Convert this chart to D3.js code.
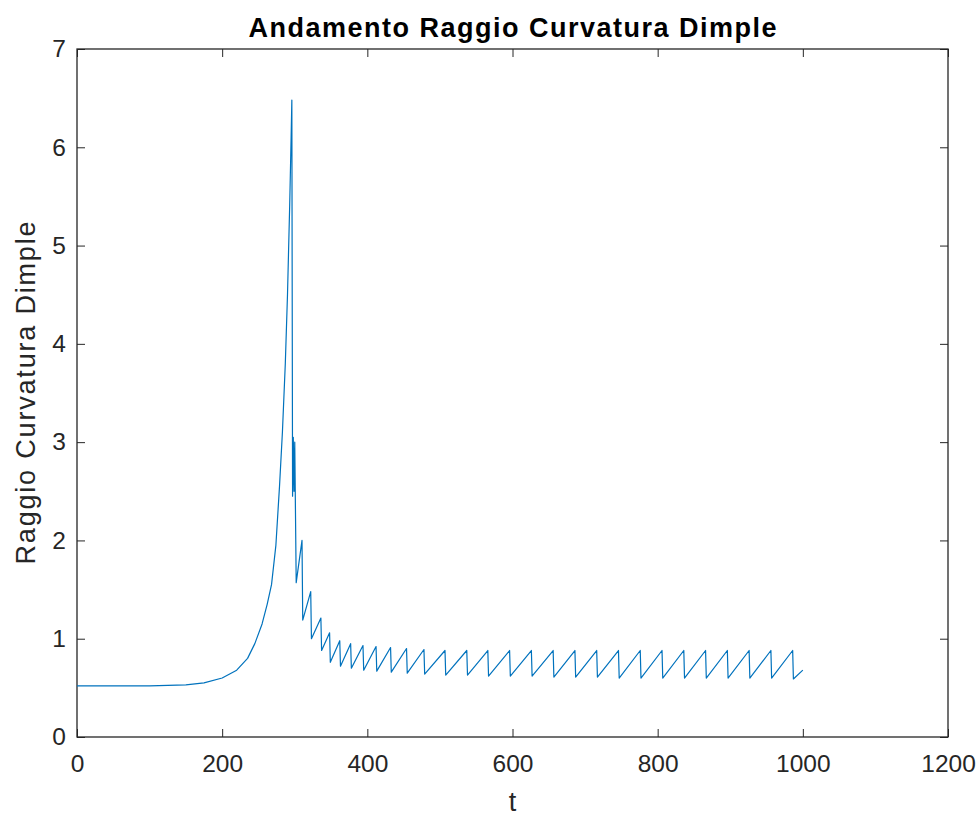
<!DOCTYPE html>
<html>
    <head>
        <meta charset="utf-8">
        <title>Andamento Raggio Curvatura Dimple</title>
        <style>
            body{
                margin: 0;
                background-color: white;
            }
            svg{
                display: block;
                background-color: white;
            }
        </style>
        <script src="https://d3js.org/d3.v7.min.js"></script>
    </head>
    <body>
    </body>
    <script>
        // t values and radius values
        let tValues = [0, 50, 100, 150, 175, 200, 220, 235, 245, 255, 262, 268, 274, 279, 283, 287, 290, 293, 295, 296,
            297, 298, 299, 300, 302,
            310, 311, 322, 323, 336, 337, 348, 349, 362, 363, 377, 378, 394, 395, 412, 413, 432, 433, 454, 455, 478, 479,
            507, 508, 537, 538, 566, 567, 596, 597, 626, 627, 656, 657, 686, 687, 716, 717, 746, 747,
            776, 777, 806, 807, 836, 837, 866, 867, 896, 897, 926, 927, 956, 957, 986, 987, 1000]
        let rValues = [0.52, 0.52, 0.52, 0.53, 0.55, 0.6, 0.68, 0.8, 0.95, 1.15, 1.35, 1.55, 1.95, 2.55, 3.1, 3.8, 4.5, 5.4, 6.1, 6.48,
            2.45, 3.05, 2.5, 3.0, 1.57,
            2.0, 1.19, 1.48, 1.0, 1.21, 0.88, 1.06, 0.76, 0.98, 0.72, 0.95, 0.7, 0.93, 0.68, 0.92, 0.67, 0.91, 0.66, 0.9, 0.65, 0.89, 0.64,
            0.88, 0.63, 0.88, 0.63, 0.88, 0.62, 0.88, 0.62, 0.88, 0.62, 0.88, 0.61, 0.88, 0.61, 0.88, 0.61, 0.88, 0.6,
            0.88, 0.6, 0.88, 0.6, 0.88, 0.6, 0.88, 0.6, 0.88, 0.6, 0.88, 0.6, 0.88, 0.6, 0.88, 0.59, 0.68]
        let xTicks = [0, 200, 400, 600, 800, 1000, 1200]
        let yTicks = [0, 1, 2, 3, 4, 5, 6, 7]

        let width = 978
        let height = 817
        let plotLeft = 77, plotRight = 948, plotTop = 49, plotBottom = 737
        let axisColor = "#262626"
        let font = "'Liberation Sans', Arial, sans-serif"

        let svg = d3.select("body")
                    .append("svg")
                    .attr("width", width)
                    .attr("height", height)

        let xScale = d3.scaleLinear().domain([0, 1200]).range([plotLeft, plotRight])
        let yScale = d3.scaleLinear().domain([0, 7]).range([plotBottom, plotTop])

        let styleAxis = (g) => {
            g.select(".domain").remove()
            g.selectAll(".tick line").attr("stroke", axisColor).attr("stroke-width", 1)
            g.selectAll("text")
                .attr("fill", axisColor)
                .attr("font-family", font)
                .attr("font-size", 24.5)
        }

        svg.append("g")
            .attr("transform", `translate(0,${plotBottom})`)
            .call(d3.axisBottom(xScale).tickValues(xTicks).tickFormat(d3.format("d")).tickSizeInner(-8).tickSizeOuter(0).tickPadding(18))
            .call(styleAxis)
        svg.append("g")
            .attr("transform", `translate(0,${plotTop})`)
            .call(d3.axisTop(xScale).tickValues(xTicks).tickFormat("").tickSizeInner(-8).tickSizeOuter(0))
            .call(styleAxis)
        svg.append("g")
            .attr("transform", `translate(${plotLeft},0)`)
            .call(d3.axisLeft(yScale).tickValues(yTicks).tickFormat(d3.format("d")).tickSizeInner(-8).tickSizeOuter(0).tickPadding(11))
            .call(styleAxis)
        svg.append("g")
            .attr("transform", `translate(${plotRight},0)`)
            .call(d3.axisRight(yScale).tickValues(yTicks).tickFormat("").tickSizeInner(-8).tickSizeOuter(0))
            .call(styleAxis)

        svg.append("rect")
            .attr("x", plotLeft)
            .attr("y", plotTop)
            .attr("width", plotRight - plotLeft)
            .attr("height", plotBottom - plotTop)
            .attr("fill", "none")
            .attr("stroke", axisColor)
            .attr("stroke-width", 1.3)

        let line = d3.line()
                    .x((d) => xScale(d[0]))
                    .y((d) => yScale(d[1]))

        svg.append("path")
            .datum(tValues.map((t, i) => [t, rValues[i]]))
            .attr("d", line)
            .attr("fill", "none")
            .attr("stroke", "#0072BD")
            .attr("stroke-width", 1.2)
            .attr("stroke-linejoin", "round")

        svg.append("text")
            .text("Andamento Raggio Curvatura Dimple")
            .attr("x", (plotLeft + plotRight) / 2)
            .attr("y", 37)
            .attr("text-anchor", "middle")
            .attr("font-family", font)
            .attr("font-weight", "bold")
            .attr("font-size", 27)
            .attr("textLength", 528)
            .attr("lengthAdjust", "spacing")
            .attr("fill", "#000")

        svg.append("text")
            .text("t")
            .attr("x", (plotLeft + plotRight) / 2)
            .attr("y", 811)
            .attr("text-anchor", "middle")
            .attr("font-family", font)
            .attr("font-size", 27)
            .attr("fill", axisColor)

        svg.append("text")
            .text("Raggio Curvatura Dimple")
            .attr("transform", `translate(35,${(plotTop + plotBottom) / 2}) rotate(-90)`)
            .attr("text-anchor", "middle")
            .attr("font-family", font)
            .attr("font-size", 27)
            .attr("textLength", 343)
            .attr("lengthAdjust", "spacing")
            .attr("fill", axisColor)
    </script>
</html>
